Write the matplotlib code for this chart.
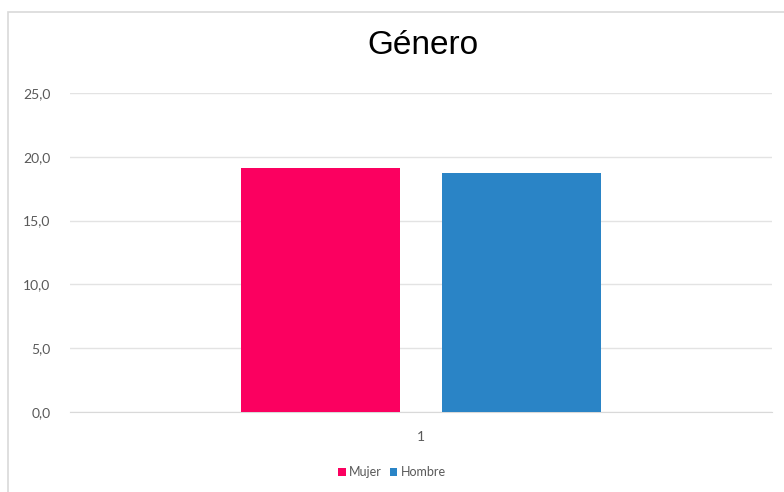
import matplotlib
matplotlib.use("Agg")
import matplotlib.pyplot as plt
from matplotlib.patches import Rectangle
from matplotlib.ticker import FuncFormatter

# data
categories = ["1"]
series = ["Mujer", "Hombre"]
values = [19.1, 18.7]
colors = ["#FB0060", "#2A84C6"]

fig = plt.figure(figsize=(7.84, 4.92), dpi=100)
plt.rcParams['font.family'] = ['Lato', 'DejaVu Sans']

# outer chart frame
fig.patches.append(Rectangle((8/784, -0.01), 1.0, 1 - 12/492 + 0.01, transform=fig.transFigure,
                             fill=False, edgecolor="#D9D9D9", linewidth=1.2))

ax = fig.add_axes([70/784, 1 - 412/492, 702/784, (412 - 93)/492])

offsets = [-0.1435, 0.1430]
width = 0.2265
for name, v, c, off in zip(series, values, colors, offsets):
    ax.bar(0 + off, v, width=width, color=c, label=name, zorder=3)

ax.set_xlim(-0.5, 0.5)
ax.set_ylim(0, 25)
ax.set_yticks([0, 5, 10, 15, 20, 25])
ax.yaxis.set_major_formatter(FuncFormatter(lambda v, p: f"{v:.1f}".replace(".", ",")))
ax.set_xticks([0])
ax.set_xticklabels(categories)
ax.grid(axis="y", color="#E3E3E3", linewidth=1, zorder=0)
for s in ["top", "right", "left"]:
    ax.spines[s].set_visible(False)
ax.spines["bottom"].set_color("#D9D9D9")
ax.tick_params(axis="both", length=0, colors="#595959", labelsize=10, pad=14)
ax.tick_params(axis="x", pad=14)

fig.text(423/784, 1 - 46/492, "Género", ha="center", va="center", fontsize=24,
         color="#000000", family=["Liberation Sans", "DejaVu Sans"])

fig.legend(loc="center", bbox_to_anchor=(0.5, 1 - 472/492), ncol=2, frameon=False,
           fontsize=9, handlelength=0.6, handleheight=0.6, handletextpad=0.3,
           columnspacing=0.6, labelcolor="#595959")

fig.savefig("out.png", dpi=100, facecolor="white")
